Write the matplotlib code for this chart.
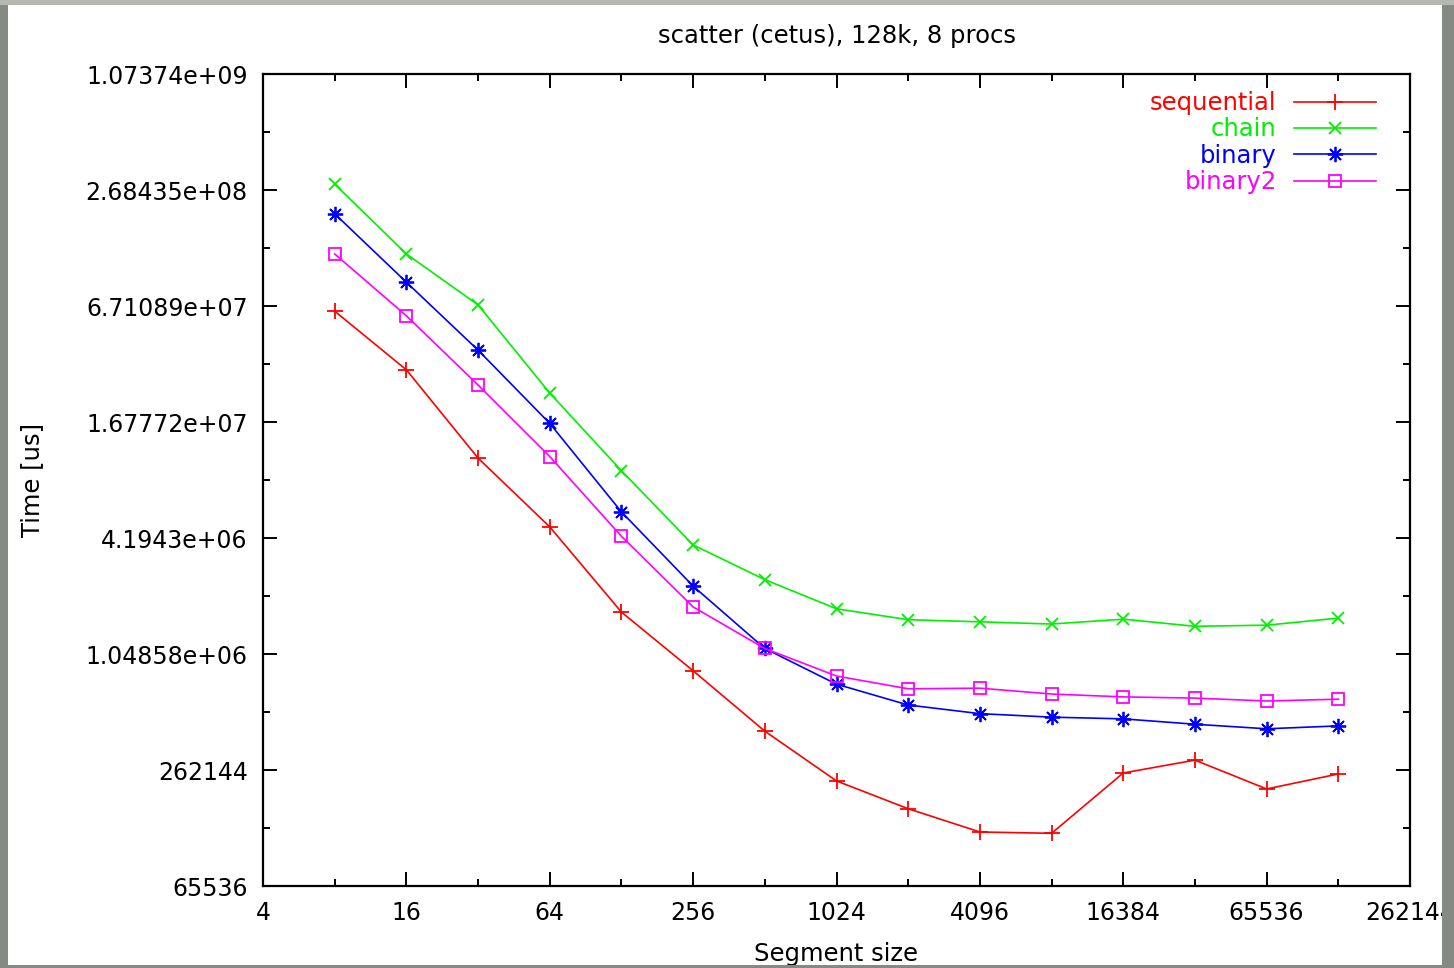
import matplotlib
matplotlib.use("Agg")
import matplotlib.pyplot as plt
from matplotlib.patches import Rectangle
from matplotlib.ticker import FixedLocator, FuncFormatter

seg_size = [8, 16, 32, 64, 128, 256, 512, 1024, 2048, 4096, 8192, 16384, 32768, 65536, 131072]

sequential = [6.31e7, 3.13e7, 1.09e7, 4.79e6, 1.73e6, 8.58e5, 4.17e5, 2.30e5,
              1.65e5, 1.25e5, 1.23e5, 2.53e5, 2.95e5, 2.09e5, 2.50e5]
chain = [2.88e8, 1.25e8, 6.80e7, 2.37e7, 9.37e6, 3.86e6, 2.55e6, 1.80e6,
         1.58e6, 1.54e6, 1.50e6, 1.59e6, 1.46e6, 1.48e6, 1.61e6]
binary = [2.02e8, 8.92e7, 3.96e7, 1.65e7, 5.73e6, 2.36e6, 1.12e6, 7.31e5,
          5.70e5, 5.14e5, 4.93e5, 4.83e5, 4.53e5, 4.29e5, 4.44e5]
binary2 = [1.25e8, 5.97e7, 2.61e7, 1.11e7, 4.28e6, 1.84e6, 1.12e6, 8.06e5,
           6.92e5, 6.97e5, 6.50e5, 6.28e5, 6.19e5, 5.98e5, 6.11e5]

x_ticks = [4, 16, 64, 256, 1024, 4096, 16384, 65536, 262144]
x_minor = [8, 32, 128, 512, 2048, 8192, 32768, 131072]
y_ticks = [65536, 262144, 1048576, 4194304, 16777216, 67108864, 268435456, 1073741824]
y_minor = [131072, 524288, 2097152, 8388608, 33554432, 134217728, 536870912]

plt.rcParams['font.family'] = ['DejaVu Sans']

W, H = 1454, 968
fig = plt.figure(figsize=(W / 100, H / 100), dpi=100, facecolor='white')

ax = fig.add_axes([263 / W, 82 / H, 1147 / W, 812 / H])
ax.set_facecolor('white')

ax.plot(seg_size, sequential, color='#ff0000', lw=1.2, marker='+', ms=11, mew=1.3, label='sequential')
ax.plot(seg_size, chain, color='#00f000', lw=1.2, marker='x', ms=8, mew=1.3, label='chain')
ax.plot(seg_size, binary, color='#0000ff', lw=1.2, marker=(8, 2, 0), ms=11, mew=1.3, label='binary')
ax.plot(seg_size, binary2, color='#ff00ff', lw=1.2, marker='s', ms=8, mew=1.3,
        fillstyle='none', label='binary2')

ax.set_xscale('log', base=2)
ax.set_yscale('log', base=2)
ax.set_xlim(4, 262144)
ax.set_ylim(65536, 1073741824)

ax.xaxis.set_major_locator(FixedLocator(x_ticks))
ax.xaxis.set_minor_locator(FixedLocator(x_minor))
ax.yaxis.set_major_locator(FixedLocator(y_ticks))
ax.yaxis.set_minor_locator(FixedLocator(y_minor))
ax.xaxis.set_major_formatter(FuncFormatter(lambda v, p: '%d' % v))
ax.yaxis.set_major_formatter(FuncFormatter(lambda v, p: '%g' % v))
ax.xaxis.set_minor_formatter(FuncFormatter(lambda v, p: ''))
ax.yaxis.set_minor_formatter(FuncFormatter(lambda v, p: ''))

ax.tick_params(which='both', direction='in', top=True, right=True, width=1.4,
               labelsize=17, colors='black')
ax.tick_params(which='major', length=10, pad=11)
ax.tick_params(which='minor', length=5)
for s in ax.spines.values():
    s.set_linewidth(1.6)

ax.set_title('scatter (cetus), 128k, 8 procs', fontsize=17.5, pad=22)
ax.set_xlabel('Segment size', fontsize=17.5, labelpad=12)
ax.set_ylabel('Time [us]', fontsize=17.5, labelpad=30)

leg = ax.legend(loc='upper right', bbox_to_anchor=(0.979, 0.991), borderaxespad=0,
                frameon=False, markerfirst=False, fontsize=17.5,
                handlelength=3.4, handletextpad=0.7, labelspacing=0.1,
                labelcolor='linecolor')

# grey screenshot frame on top, it clips the outermost labels
frame = '#858a83'
fig.add_artist(Rectangle((0, 0), 8 / W, 1, transform=fig.transFigure,
                         facecolor=frame, edgecolor='none', zorder=5))
fig.add_artist(Rectangle((1442 / W, 0), 12 / W, 1, transform=fig.transFigure,
                         facecolor=frame, edgecolor='none', zorder=5))
fig.add_artist(Rectangle((0, 0), 1, 3 / H, transform=fig.transFigure,
                         facecolor=frame, edgecolor='none', zorder=5))
fig.add_artist(Rectangle((0, 1 - 5 / H), 1, 5 / H, transform=fig.transFigure,
                         facecolor='#b4b8b1', edgecolor='none', zorder=5))

fig.savefig('out.png', dpi=100)
